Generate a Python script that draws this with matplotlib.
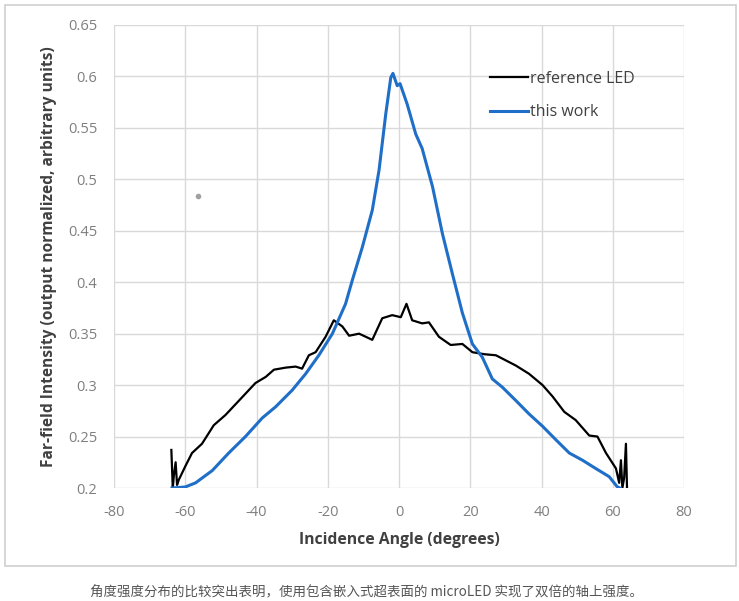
import matplotlib
matplotlib.use("Agg")
import matplotlib.pyplot as plt
from matplotlib.patches import Rectangle

plt.rcParams["font.family"] = ["Open Sans", "DejaVu Sans"]
plt.rcParams["axes.unicode_minus"] = False

# reference LED (black)
ref_angle = [-63.9, -63.5, -63.2, -62.7, -62.3, -61.8, -60.0, -58.1, -55.3, -52.0,
             -48.7, -44.9, -40.3, -37.4, -35.1, -31.8, -29.0, -27.2, -25.3, -23.4,
             -20.6, -18.3, -15.9, -14.0, -11.2, -7.5, -4.7, -1.9, 0.5, 2.1,
             3.7, 6.5, 8.4, 11.2, 14.5, 17.8, 20.6, 24.0, 27.2, 32.8,
             36.5, 40.3, 43.1, 46.4, 49.6, 53.4, 55.7, 58.1, 60.9, 61.8,
             62.3, 62.7, 63.2, 63.7, 64.0]
ref_int = [0.237, 0.200, 0.212, 0.225, 0.203, 0.208, 0.221, 0.234, 0.243, 0.261,
           0.271, 0.285, 0.302, 0.308, 0.315, 0.317, 0.318, 0.316, 0.329, 0.332,
           0.347, 0.363, 0.357, 0.348, 0.350, 0.344, 0.365, 0.368, 0.366, 0.379,
           0.363, 0.360, 0.361, 0.347, 0.339, 0.340, 0.332, 0.330, 0.329, 0.319,
           0.311, 0.300, 0.289, 0.274, 0.266, 0.251, 0.250, 0.234, 0.219, 0.205,
           0.227, 0.200, 0.210, 0.243, 0.200]

# this work (blue)
new_angle = [-63.7, -60.0, -57.1, -52.4, -47.8, -43.1, -38.4, -34.6, -30.0, -26.2,
             -22.5, -18.7, -15.0, -13.1, -10.3, -7.5, -5.6, -3.7, -2.3, -1.7,
             -0.5, 0.3, 2.3, 4.7, 6.5, 9.4, 12.2, 15.0, 17.8, 20.6,
             23.4, 26.2, 29.0, 32.8, 36.5, 40.3, 44.0, 47.8, 51.5, 55.2,
             59.0, 61.3, 62.0]
new_int = [0.200, 0.201, 0.205, 0.217, 0.234, 0.250, 0.268, 0.279, 0.295, 0.311,
           0.329, 0.350, 0.379, 0.402, 0.434, 0.470, 0.509, 0.564, 0.599, 0.603,
           0.591, 0.593, 0.573, 0.544, 0.530, 0.493, 0.447, 0.408, 0.370, 0.340,
           0.327, 0.306, 0.298, 0.285, 0.272, 0.260, 0.247, 0.234, 0.227, 0.219,
           0.211, 0.201, 0.200]

stray_angle = [-56.5]
stray_int = [0.484]

x_ticks = [-80, -60, -40, -20, 0, 20, 40, 60, 80]
y_ticks = [0.2, 0.25, 0.3, 0.35, 0.4, 0.45, 0.5, 0.55, 0.6, 0.65]
y_tick_labels = ["0.2", "0.25", "0.3", "0.35", "0.4", "0.45", "0.5", "0.55", "0.6", "0.65"]

caption = "角度强度分布的比较突出表明，使用包含嵌入式超表面的 microLED 实现了双倍的轴上强度。"

fig = plt.figure(figsize=(7.39, 6.01), dpi=100)

# outer frame around chart
fig.patches.append(Rectangle((5 / 739, 1 - 566 / 601), 731 / 739, 561 / 601,
                             transform=fig.transFigure, fill=False,
                             edgecolor="#d0d0d0", linewidth=1.2))

ax = fig.add_axes([114 / 739, 113 / 601, 570 / 739, 463 / 601])

ax.plot(ref_angle, ref_int, color="black", linewidth=1.6, label="reference LED", zorder=3)
ax.plot(new_angle, new_int, color="#1f6fc8", linewidth=2.2, label="this work", zorder=4)
ax.plot(stray_angle, stray_int, "o", color="#a0a0a0", markersize=3, zorder=2)

ax.set_xlim(-80, 80)
ax.set_ylim(0.2, 0.65)
ax.set_xticks(x_ticks)
ax.set_yticks(y_ticks)
ax.set_yticklabels(y_tick_labels)
ax.tick_params(length=0, colors="#7f7f7f", labelsize=10.5, pad=12)
ax.grid(color="#d9d9d9", linewidth=1)
for s in ax.spines.values():
    s.set_visible(False)
ax.set_axisbelow(True)

ax.set_xlabel("Incidence Angle (degrees)", fontsize=11.3, fontweight="bold",
              color="#404040", labelpad=9)
ax.set_ylabel("Far-field Intensity (output normalized, arbitrary units)", fontsize=11.2,
              fontweight="bold", color="#404040", labelpad=8)

leg = ax.legend(loc="upper left", bbox_to_anchor=(0.648, 0.915), frameon=False,
                fontsize=11.5, handlelength=2.4, handletextpad=0.1, labelspacing=1.1,
                borderaxespad=0)
for t in leg.get_texts():
    t.set_color("#404040")

fig.text(366 / 739, 1 - 592 / 601, caption, ha="center", va="center", fontsize=9.7,
         color="#555555", family=["Noto Sans CJK SC", "DejaVu Sans"])

fig.savefig("out.png", dpi=100)
